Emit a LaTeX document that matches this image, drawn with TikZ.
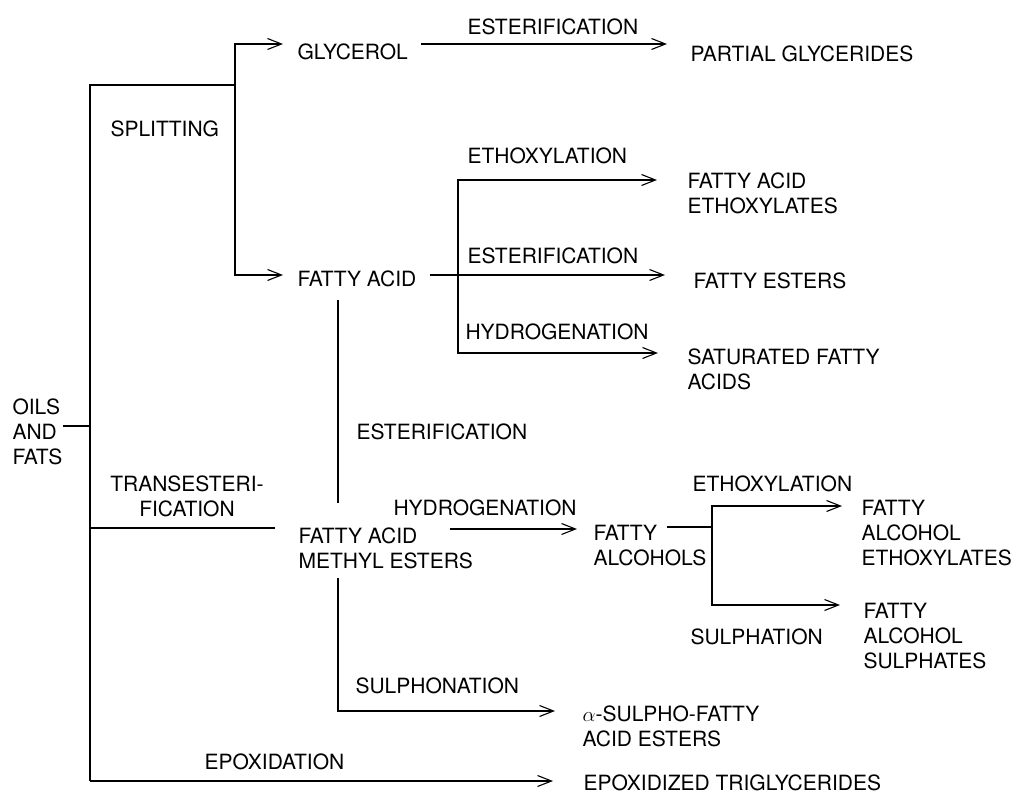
\documentclass[tikz,border=0pt]{standalone}
\usepackage{fontspec}
\setmainfont{TeX Gyre Heros}
\usetikzlibrary{arrows.meta}

\begin{document}
\begin{tikzpicture}[x=1pt, y=-1pt, line width=1.1pt,
	every node/.style={anchor=north west, inner sep=0pt, align=left, font=\fontsize{21}{25}\selectfont},
	>={Straight Barb[length=14pt,width=11pt]}]
\useasboundingbox (0,0) rectangle (1016,794);

% products
\node (oils) at (12,398) {OILS\\AND\\FATS};
\node (glycerol) at (297,43) {GLYCEROL};
\node (fattyacid) at (297,270) {FATTY ACID};
\node (partial) at (690,45) {PARTIAL GLYCERIDES};
\node (faeth) at (687,172) {FATTY ACID\\ETHOXYLATES};
\node (festers) at (693,272) {FATTY ESTERS};
\node (satfa) at (687,348) {SATURATED FATTY\\ACIDS};
\node (fame) at (298,527) {FATTY ACID\\METHYL ESTERS};
\node (falc) at (593,525) {FATTY\\ALCOHOLS};
\node (faleth) at (861,500) {FATTY\\ALCOHOL\\ETHOXYLATES};
\node (falsul) at (863,603) {FATTY\\ALCOHOL\\SULPHATES};
\node (sulfo) at (582,705) {$\alpha$-SULPHO-FATTY\\ACID ESTERS};
\node (epox) at (583,774) {EPOXIDIZED TRIGLYCERIDES};

% processes
\node (splitting) at (110,120) {SPLITTING};
\node[anchor=north, align=center] (transest) at (187,475) {TRANSESTERI-\\FICATION};
\node (esterif1) at (467,18) {ESTERIFICATION};
\node (ethox1) at (467,147) {ETHOXYLATION};
\node (esterif2) at (467,247) {ESTERIFICATION};
\node (hydro1) at (465,323) {HYDROGENATION};
\node (esterif3) at (356,423) {ESTERIFICATION};
\node (hydro2) at (393,499) {HYDROGENATION};
\node (ethox2) at (692,475) {ETHOXYLATION};
\node (sulphation) at (690,628) {SULPHATION};
\node (sulphonation) at (355,677) {SULPHONATION};
\node (epoxidation) at (204,753) {EPOXIDATION};

\coordinate (top) at (90,85);
\coordinate (root) at (90,426);
\coordinate (tr) at (90,528);
\coordinate (bot) at (90,781);
\coordinate (split) at (235,85);
\coordinate (fabr) at (458,275);
\coordinate (albr) at (712,527);

\draw (oils.east |- root) -- (root);
\draw (split) -- (top) -- (bot);
\draw[->] (split) |- ([shift={(-14,1)}]glycerol.north west);
\draw[->] (split) |- ([shift={(-14,5)}]fattyacid.north west);
\draw[->] ([shift={(13,1)}]glycerol.north east) -- ([shift={(-23,-1)}]partial.north west);
\draw[->] ([shift={(13,5)}]fattyacid.north east) -- ([shift={(-28,3)}]festers.north west);
\draw[->] (fabr) |- ([shift={(-30,8)}]faeth.north west);
\draw[->] (fabr) |- ([shift={(-29,5)}]satfa.north west);
\draw ([shift={(41,13)}]fattyacid.south west) -- ([shift={(40,-24)}]fame.north west);
\draw (tr) -- ([shift={(-23,1)}]fame.north west);
\draw[->] ([shift={(152,2)}]fame.north west) -- ([shift={(-16,4)}]falc.north west);
\draw ([shift={(74,2)}]falc.north west) -- (albr);
\draw[->] (albr) |- ([shift={(-19,6)}]faleth.north west);
\draw[->] (albr) |- ([shift={(-23,2)}]falsul.north west);
\draw[->] ([shift={(40,9)}]fame.south west) |- ([shift={(-27,6)}]sulfo.north west);
\draw[->] (bot) -- ([shift={(-30,7)}]epox.north west);
\end{tikzpicture}
\end{document}
